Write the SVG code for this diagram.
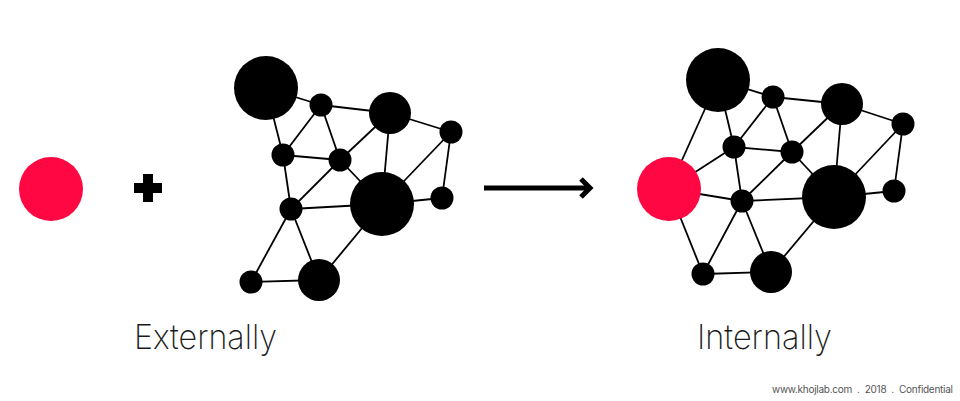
<svg xmlns="http://www.w3.org/2000/svg" width="960" height="401" viewBox="0 0 960 401">
<defs>
<style>
.e line{stroke:#000;stroke-width:1.8}
.n{fill:#000}
.r{fill:#FF0743}
.lbl{font-family:Inter,"Liberation Sans",sans-serif;font-weight:200;font-size:34px;fill:#1a1a1a}
.ft{font-family:Inter,"Liberation Sans",sans-serif;font-size:10px;fill:#555}
</style>
</defs>
<rect width="960" height="401" fill="#fff"/>
<g id="newcomer"><circle class="r" cx="51" cy="189" r="32"/></g>
<g id="plus"><path d="M143 174h10v9h9v10h-9v9h-10v-9h-9v-10h9z" fill="#000"/></g>
<g id="arrow"><line x1="484" y1="188" x2="590" y2="188" stroke="#000" stroke-width="5"/><polyline points="581,179 590,188 581,197" fill="none" stroke="#000" stroke-width="5"/></g>

<g class="e" id="edges-left">
<line x1="266" y1="88" x2="321" y2="105"/>
<line x1="266" y1="88" x2="283" y2="155"/>
<line x1="321" y1="105" x2="283" y2="155"/>
<line x1="321" y1="105" x2="340" y2="160"/>
<line x1="321" y1="105" x2="390" y2="113"/>
<line x1="390" y1="113" x2="340" y2="160"/>
<line x1="390" y1="113" x2="451" y2="132"/>
<line x1="390" y1="113" x2="382" y2="204"/>
<line x1="451" y1="132" x2="382" y2="204"/>
<line x1="451" y1="132" x2="442" y2="198"/>
<line x1="442" y1="198" x2="382" y2="204"/>
<line x1="283" y1="155" x2="340" y2="160"/>
<line x1="283" y1="155" x2="291" y2="209"/>
<line x1="340" y1="160" x2="291" y2="209"/>
<line x1="340" y1="160" x2="382" y2="204"/>
<line x1="291" y1="209" x2="382" y2="204"/>
<line x1="291" y1="209" x2="251" y2="282"/>
<line x1="291" y1="209" x2="319" y2="280"/>
<line x1="251" y1="282" x2="319" y2="280"/>
<line x1="319" y1="280" x2="382" y2="204"/>
</g>
<g id="left-nodes">
<circle class="n" cx="266" cy="88" r="32"/>
<circle class="n" cx="321" cy="105" r="11.5"/>
<circle class="n" cx="390" cy="113" r="21"/>
<circle class="n" cx="451" cy="132" r="11.5"/>
<circle class="n" cx="283" cy="155" r="11.5"/>
<circle class="n" cx="340" cy="160" r="11.5"/>
<circle class="n" cx="382" cy="204" r="32"/>
<circle class="n" cx="442" cy="198" r="11.5"/>
<circle class="n" cx="291" cy="209" r="11.5"/>
<circle class="n" cx="251" cy="282" r="11.5"/>
<circle class="n" cx="319" cy="280" r="21"/>
</g>

<g class="e" id="edges-right">
<line x1="718" y1="80" x2="773" y2="97"/>
<line x1="718" y1="80" x2="734" y2="147"/>
<line x1="718" y1="80" x2="669" y2="189"/>
<line x1="773" y1="97" x2="734" y2="147"/>
<line x1="773" y1="97" x2="792" y2="152"/>
<line x1="773" y1="97" x2="842" y2="104"/>
<line x1="842" y1="104" x2="792" y2="152"/>
<line x1="842" y1="104" x2="903" y2="124"/>
<line x1="842" y1="104" x2="834" y2="197"/>
<line x1="903" y1="124" x2="834" y2="197"/>
<line x1="903" y1="124" x2="894" y2="191"/>
<line x1="894" y1="191" x2="834" y2="197"/>
<line x1="734" y1="147" x2="792" y2="152"/>
<line x1="734" y1="147" x2="742" y2="201"/>
<line x1="734" y1="147" x2="669" y2="189"/>
<line x1="792" y1="152" x2="742" y2="201"/>
<line x1="792" y1="152" x2="834" y2="197"/>
<line x1="742" y1="201" x2="834" y2="197"/>
<line x1="742" y1="201" x2="703" y2="274"/>
<line x1="742" y1="201" x2="771" y2="272"/>
<line x1="703" y1="274" x2="771" y2="272"/>
<line x1="771" y1="272" x2="834" y2="197"/>
<line x1="669" y1="189" x2="742" y2="201"/>
<line x1="669" y1="189" x2="703" y2="274"/>
</g>
<g id="right-nodes">
<circle class="n" cx="718" cy="80" r="32"/>
<circle class="n" cx="773" cy="97" r="11.5"/>
<circle class="n" cx="842" cy="104" r="21"/>
<circle class="n" cx="903" cy="124" r="11.5"/>
<circle class="n" cx="734" cy="147" r="11.5"/>
<circle class="n" cx="792" cy="152" r="11.5"/>
<circle class="r" cx="669" cy="189" r="32"/>
<circle class="n" cx="834" cy="197" r="32"/>
<circle class="n" cx="894" cy="191" r="11.5"/>
<circle class="n" cx="742" cy="201" r="11.5"/>
<circle class="n" cx="703" cy="274" r="11.5"/>
<circle class="n" cx="771" cy="272" r="21"/>
</g>

<g id="labels">
<text class="lbl" x="134" y="349" textLength="143" lengthAdjust="spacingAndGlyphs">Externally</text>
<text class="lbl" x="697" y="349" textLength="135" lengthAdjust="spacingAndGlyphs">Internally</text>
<text class="ft" x="772" y="393" textLength="181" xml:space="preserve">www.khojlab.com  .  2018  .  Confidential</text>
</g>
</svg>
